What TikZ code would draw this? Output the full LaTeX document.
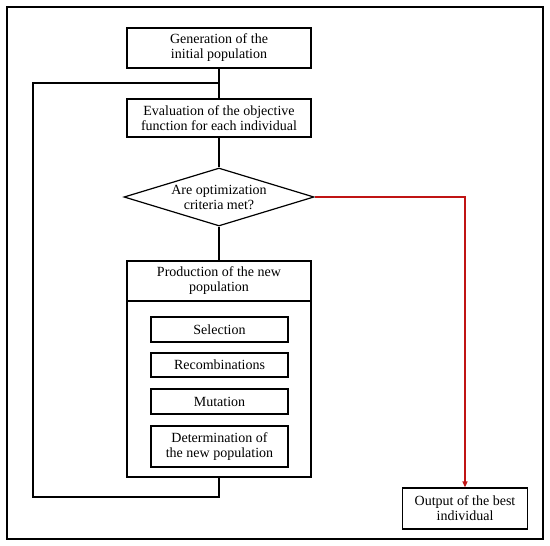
\documentclass[tikz,border=0pt]{standalone}
\usepackage{fontspec}
\setmainfont{Liberation Serif}
\usetikzlibrary{shapes.geometric,arrows.meta}
\definecolor{redline}{RGB}{192,20,20}
\begin{document}
\begin{tikzpicture}[x=1pt,y=-1pt,
  box/.style={draw, line width=1.2pt, align=center, inner sep=0pt, font=\fontsize{14}{15}\selectfont},
  conn/.style={line width=1.2pt},
  redconn/.style={line width=1.2pt, draw=redline, -{Triangle[length=6pt,width=5pt]}}]
\useasboundingbox (0,0) rectangle (550,546);
\draw[line width=2.6pt] (7,7) rectangle (543,539);
\node[box, minimum width=184pt, minimum height=40pt] (gen) at (219,48) {Generation of the\\initial population};
\node[box, minimum width=184pt, minimum height=38pt] (eval) at (219,118) {Evaluation of the objective\\function for each individual};
\node[box, diamond, aspect=3.27, minimum width=190pt, minimum height=58pt] (dec) at (219,197) {Are optimization\\criteria met?};
\node[box, minimum width=184pt, minimum height=216pt] (prod) at (219,369) {};
\node[box, minimum width=184pt, minimum height=40pt] (prodh) at (219,281) {Production of the new\\population};
\node[box, minimum width=137pt, minimum height=25pt] (sel) at (219.5,329.5) {Selection};
\node[box, minimum width=137pt, minimum height=24pt] (rec) at (219.5,365) {Recombinations};
\node[box, minimum width=137pt, minimum height=25pt] (mut) at (219.5,401.5) {Mutation};
\node[box, minimum width=137pt, minimum height=41pt] (det) at (219.5,446.5) {Determination of\\the new population};
\node[box, minimum width=125pt, minimum height=41pt] (out) at (465,508.5) {Output of the best\\individual};
\coordinate (junc) at (219,83);
\coordinate (lb) at (33,497);
\coordinate (lt) at (33,83);
\draw[conn] (gen.south) -- (eval.north);
\draw[conn] (eval.south) -- (dec.north);
\draw[conn] (dec.south) -- (prodh.north);
\draw[conn] (prod.south) |- (lb) -- (lt) -- (junc);
\draw[redconn] (dec.east) -| (out.north);
\end{tikzpicture}
\end{document}
